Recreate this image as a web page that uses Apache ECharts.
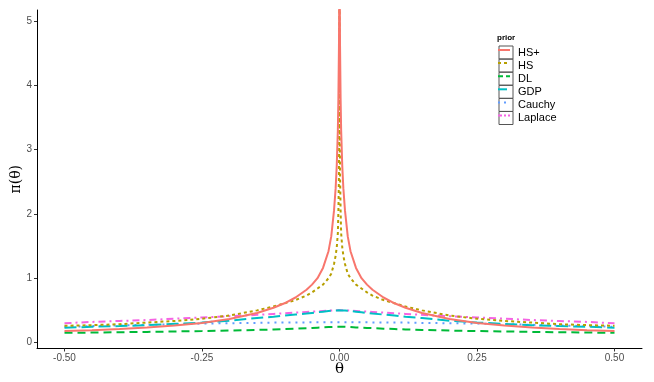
<!DOCTYPE html>
<html>
<head>
<meta charset="utf-8">
<script src="https://cdn.jsdelivr.net/npm/echarts@6/dist/echarts.min.js"></script>
<style>html,body{margin:0;padding:0;background:#fff}#c{width:654px;height:382px}</style>
</head>
<body>
<div id="c"></div>
<script>
const theta = [-0.5,-0.45,-0.4,-0.35,-0.3,-0.25,-0.2,-0.15,-0.12,-0.1,-0.08,-0.06,-0.05,-0.04,-0.03,-0.02,-0.015,-0.01,-0.007,-0.005,-0.003,-0.002,-0.001,-0.0005,0,
  0.0005,0.001,0.002,0.003,0.005,0.007,0.01,0.015,0.02,0.03,0.04,0.05,0.06,0.08,0.1,0.12,0.15,0.2,0.25,0.3,0.35,0.4,0.45,0.5];
const hsPlus = [0.18,0.19,0.21,0.235,0.265,0.305,0.365,0.46,0.54,0.61,0.70,0.82,0.90,1.00,1.16,1.42,1.65,2.05,2.40,2.75,3.30,3.80,4.60,5.30,7,
  5.30,4.60,3.80,3.30,2.75,2.40,2.05,1.65,1.42,1.16,1.00,0.90,0.82,0.70,0.61,0.54,0.46,0.365,0.305,0.265,0.235,0.21,0.19,0.18];
const hs = [0.26,0.27,0.285,0.31,0.335,0.37,0.42,0.50,0.56,0.61,0.66,0.73,0.78,0.84,0.90,1.00,1.07,1.22,1.35,1.48,1.70,2.05,2.60,3.30,7,
  3.30,2.60,2.05,1.70,1.48,1.35,1.22,1.07,1.00,0.90,0.84,0.78,0.73,0.66,0.61,0.56,0.50,0.42,0.37,0.335,0.31,0.285,0.27,0.26];
const dl = [0.15,0.155,0.16,0.165,0.172,0.178,0.186,0.196,0.203,0.21,0.216,0.223,0.227,0.231,0.235,0.24,0.242,0.244,0.245,0.245,0.245,0.245,0.245,0.245,0.245,
  0.245,0.245,0.245,0.245,0.245,0.245,0.244,0.242,0.24,0.235,0.231,0.227,0.223,0.216,0.21,0.203,0.196,0.186,0.178,0.172,0.165,0.16,0.155,0.15];
const gdp = [0.23,0.245,0.255,0.27,0.29,0.31,0.34,0.38,0.40,0.42,0.435,0.45,0.46,0.47,0.48,0.49,0.493,0.497,0.498,0.499,0.5,0.5,0.5,0.5,0.5,
  0.5,0.5,0.5,0.5,0.499,0.498,0.497,0.493,0.49,0.48,0.47,0.46,0.45,0.435,0.42,0.40,0.38,0.34,0.31,0.29,0.27,0.255,0.245,0.23];
const cauchy = [0.245,0.255,0.265,0.275,0.285,0.295,0.30,0.305,0.31,0.31,0.312,0.313,0.314,0.314,0.315,0.315,0.315,0.315,0.315,0.315,0.315,0.315,0.315,0.315,0.315,
  0.315,0.315,0.315,0.315,0.315,0.315,0.315,0.315,0.315,0.315,0.314,0.314,0.313,0.312,0.31,0.31,0.305,0.30,0.295,0.285,0.275,0.265,0.255,0.245];
const laplace = [0.30,0.32,0.335,0.35,0.37,0.39,0.41,0.43,0.445,0.455,0.465,0.475,0.48,0.485,0.49,0.495,0.497,0.50,0.50,0.50,0.50,0.50,0.50,0.50,0.50,
  0.50,0.50,0.50,0.50,0.50,0.50,0.50,0.497,0.495,0.49,0.485,0.48,0.475,0.465,0.455,0.445,0.43,0.41,0.39,0.37,0.35,0.335,0.32,0.30];
const xTicks = [-0.5,-0.25,0,0.25,0.5];
const yTicks = [0,1,2,3,4,5];
const names = ['HS+','HS','DL','GDP','Cauchy','Laplace'];
const values = [hsPlus, hs, dl, gdp, cauchy, laplace];
const colors = ['#F8766D','#B79F00','#00BA38','#00BFC4','#619CFF','#F564E3'];
const dashes = ['solid',[3,3],[8,5],[12,5],[2,5],[7,4,2,4]];
const legendDashes = ['solid',[3,3],[5,3],[9,3],[2,4],[4,2,2,2]];

const chart = echarts.init(document.getElementById('c'));
const series = names.map((n,i)=>({
  name:n, type:'line', symbol:'none', clip:true, smooth:false,
  data: theta.map((t,j)=>[t, values[i][j]]),
  lineStyle:{color:colors[i], width:2, type:dashes[i]},
  itemStyle:{color:colors[i]},
  z: 10 - i
}));
const legendTop = 43.5, rowH = 13.1;
const graphics = names.map((n,i)=>({
  type:'rect', left:496.5, top:legendTop + rowH*i,
  shape:{width:14, height:13},
  style:{fill:'none', stroke:'#555', lineWidth:1}, z:100
}));
names.forEach((n,i)=>{
  graphics.push({type:'line', z:101,
    shape:{x1:498, y1:legendTop + rowH*i + 6.5, x2:510, y2:legendTop + rowH*i + 6.5},
    style:{stroke:colors[i], lineWidth:2, lineDash: legendDashes[i]==='solid'?null:legendDashes[i]}});
});
graphics.push({type:'text', left:497, top:34, style:{text:'prior', font:'bold 8px Liberation Sans', fill:'#000'}});
chart.setOption({
  animation:false,
  grid:{left:37, right:12, top:10, bottom:33.5, outerBoundsMode:'none', containLabel:false},
  xAxis:{type:'value', min:-0.55, max:0.55,
    name:'θ', nameLocation:'middle', nameGap:13, nameMoveOverlap:false,
    nameTextStyle:{fontFamily:'DejaVu Serif', fontSize:15, color:'#000'},
    axisLine:{onZero:false, lineStyle:{color:'#000', width:1}},
    axisTick:{length:3, lineStyle:{color:'#333'}, customValues:xTicks},
    axisLabel:{customValues:xTicks, color:'#4d4d4d', fontSize:10, fontFamily:'Liberation Sans', margin:5,
      formatter:v=>v.toFixed(2)},
    splitLine:{show:false}},
  yAxis:{type:'value', min:-0.093, max:5.17,
    name:'π(θ)', nameLocation:'middle', nameGap:14, nameRotate:90, nameMoveOverlap:false,
    nameTextStyle:{fontFamily:'DejaVu Serif', fontSize:14, color:'#000'},
    axisLine:{show:true, onZero:false, lineStyle:{color:'#000', width:1}},
    axisTick:{show:true, length:3, lineStyle:{color:'#333'}, customValues:yTicks},
    axisLabel:{customValues:yTicks, color:'#4d4d4d', fontSize:10, fontFamily:'Liberation Sans', margin:5},
    splitLine:{show:false}},
  legend:{orient:'vertical', left:497, top:legendTop - 2.5, itemWidth:14, itemHeight:13, itemGap:0.1,
    data:names, textStyle:{fontSize:11, lineHeight:13, height:13, fontFamily:'Liberation Sans', color:'#000', padding:[0,0,0,-3]},
    icon:'rect', itemStyle:{opacity:0}},
  graphic:graphics,
  series:series
});
</script>
</body>
</html>
